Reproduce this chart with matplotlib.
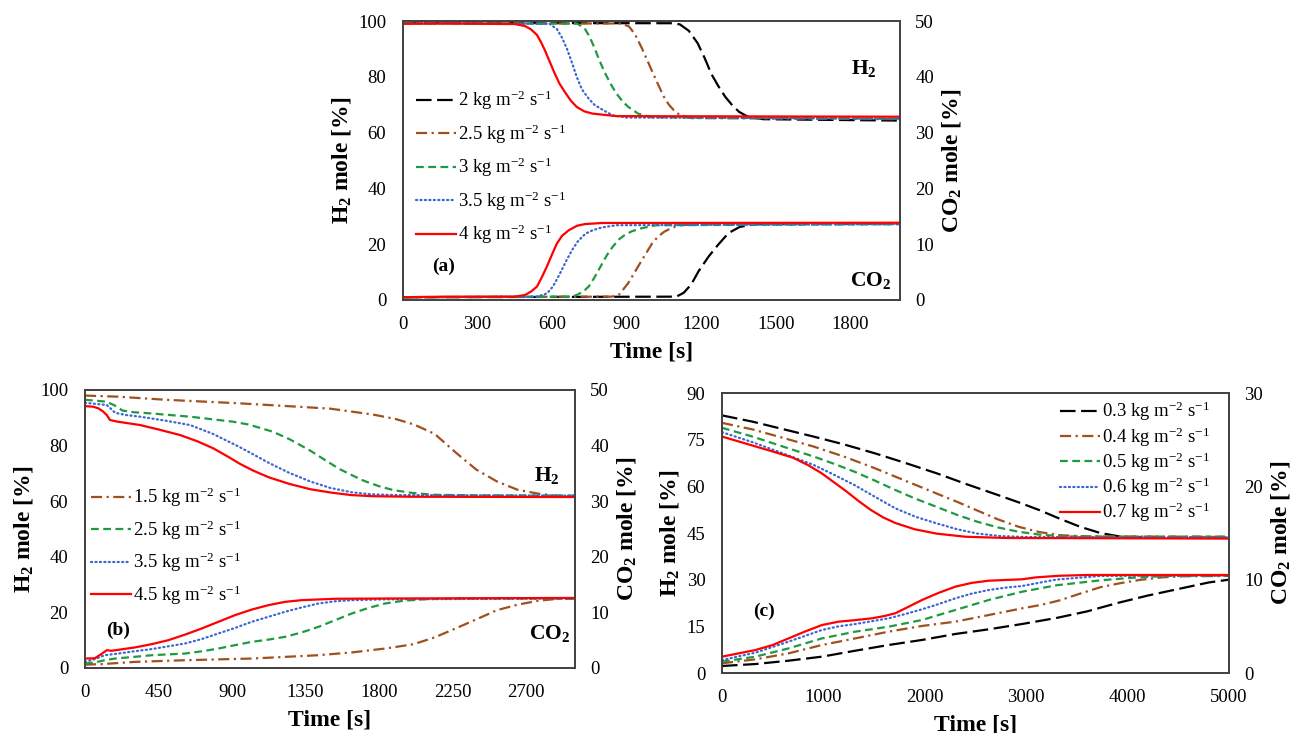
import matplotlib
matplotlib.use('Agg')
import matplotlib.pyplot as plt

plt.rcParams['font.family'] = ['Liberation Serif', 'DejaVu Serif']
plt.rcParams['mathtext.fontset'] = 'custom'
plt.rcParams['mathtext.rm'] = 'Liberation Serif'
plt.rcParams['mathtext.it'] = 'Liberation Serif:italic'
plt.rcParams['mathtext.bf'] = 'Liberation Serif:bold'

# ---------------- Panel (a) ----------------
a_labels = ['2 kg m$^{-2}$ s$^{-1}$', '2.5 kg m$^{-2}$ s$^{-1}$', '3 kg m$^{-2}$ s$^{-1}$',
            '3.5 kg m$^{-2}$ s$^{-1}$', '4 kg m$^{-2}$ s$^{-1}$']
a_xticks = [0, 300, 600, 900, 1200, 1500, 1800]

a_h2_t_2 = [0, 1080, 1114, 1150, 1186, 1215, 1241, 1270, 1297, 1325, 1353, 1390, 1450, 2000]
a_h2_2 = [99.3, 99.2, 98.8, 96.5, 92.0, 86.5, 81.0, 76.5, 72.8, 69.8, 67.4, 65.6, 64.8, 64.3]
a_h2_t_25 = [0, 880, 910, 935, 960, 980, 1000, 1020, 1050, 1070, 1090, 1115, 1160, 2000]
a_h2_25 = [99.2, 99.1, 98.0, 95.0, 90.5, 86.5, 82.5, 78.5, 72.8, 70.0, 68.0, 66.2, 65.2, 64.8]
a_h2_t_3 = [0, 700, 730, 750, 770, 790, 811, 835, 859, 885, 907, 946, 1000, 2000]
a_h2_3 = [99.2, 99.1, 97.5, 94.5, 90.5, 86.0, 81.7, 77.5, 74.0, 71.0, 69.2, 66.8, 65.5, 65.0]
a_h2_t_35 = [0, 590, 620, 640, 660, 680, 699, 720, 747, 770, 795, 843, 900, 2000]
a_h2_35 = [99.2, 99.0, 97.0, 94.0, 90.0, 85.0, 80.0, 75.5, 72.2, 70.0, 68.6, 66.2, 65.4, 65.0]
a_h2_t_4 = [0, 170, 450, 491, 515, 539, 555, 571, 590, 611, 630, 651, 675, 699, 730, 763, 860, 2000]
a_h2_4 = [99.0, 99.1, 98.9, 98.2, 97.0, 95.0, 92.5, 89.5, 85.5, 81.1, 77.5, 74.6, 71.5, 69.2, 67.6, 66.8, 65.9, 65.7]

a_co2_t_2 = [0, 1100, 1130, 1160, 1190, 1230, 1270, 1310, 1355, 1420, 2000]
a_co2_2 = [0.5, 0.6, 1.3, 2.8, 5.2, 7.8, 10.0, 12.0, 13.1, 13.6, 13.7]
a_co2_t_25 = [0, 840, 870, 906, 930, 954, 980, 1002, 1025, 1050, 1080, 1114, 1200, 2000]
a_co2_25 = [0.5, 0.6, 1.0, 3.0, 4.8, 6.6, 8.5, 10.1, 11.3, 12.2, 12.9, 13.4, 13.6, 13.6]
a_co2_t_3 = [0, 680, 699, 725, 747, 770, 795, 820, 843, 870, 891, 920, 954, 1018, 2000]
a_co2_3 = [0.5, 0.6, 0.9, 1.5, 2.4, 4.0, 6.0, 8.0, 9.5, 10.9, 11.6, 12.3, 12.8, 13.4, 13.6]
a_co2_t_35 = [0, 540, 580, 603, 630, 659, 685, 707, 735, 763, 800, 859, 2000]
a_co2_35 = [0.5, 0.6, 1.2, 2.4, 4.6, 7.2, 9.3, 10.7, 11.9, 12.5, 13.0, 13.4, 13.6]
a_co2_t_4 = [0, 170, 450, 491, 515, 539, 560, 579, 600, 619, 640, 667, 700, 731, 800, 2000]
a_co2_4 = [0.5, 0.6, 0.6, 0.9, 1.5, 2.4, 4.2, 6.0, 8.2, 10.1, 11.5, 12.5, 13.3, 13.6, 13.8, 13.85]

# ---------------- Panel (b) ----------------
b_labels = ['1.5 kg m$^{-2}$ s$^{-1}$', '2.5 kg m$^{-2}$ s$^{-1}$',
            '3.5 kg m$^{-2}$ s$^{-1}$', '4.5 kg m$^{-2}$ s$^{-1}$']
b_xticks = [0, 450, 900, 1350, 1800, 2250, 2700]

b_h2_t_15 = [0, 200, 490, 949, 1500, 1760, 1900, 2014, 2141, 2268, 2395, 2522, 2649, 2776, 2880, 3000]
b_h2_15 = [98.0, 97.6, 96.5, 95.2, 93.3, 91.2, 89.6, 87.6, 84.2, 77.6, 71.4, 67.1, 64.1, 62.7, 62.0, 61.7]
b_h2_t_25 = [0, 130, 180, 230, 300, 398, 643, 906, 1000, 1150, 1252, 1379, 1470, 1557, 1640, 1709,
             1800, 1887, 2000, 2141, 2400, 3000]
b_h2_25 = [96.5, 95.8, 94.5, 92.6, 92.0, 91.6, 90.4, 88.6, 87.6, 85.0, 82.3, 78.2, 74.8, 71.6, 69.2, 67.3,
           65.4, 64.0, 63.0, 62.3, 62.1, 62.0]
b_h2_t_35 = [0, 133, 160, 184, 250, 337, 490, 643, 780, 929, 1000, 1125, 1250, 1379, 1500, 1633, 1750, 1887, 3000]
b_h2_35 = [95.4, 94.6, 93.2, 91.8, 91.0, 90.4, 89.0, 87.4, 84.3, 80.0, 77.8, 73.8, 70.2, 67.1, 64.8, 63.2, 62.5, 62.2, 62.0]
b_h2_t_45 = [0, 50, 82, 110, 133, 153, 200, 337, 450, 582, 690, 786, 870, 950, 1030, 1125, 1252, 1380,
             1506, 1630, 1760, 2000, 3000]
b_h2_45 = [94.2, 94.0, 93.4, 92.3, 91.0, 89.2, 88.6, 87.4, 85.8, 83.8, 81.5, 79.0, 76.2, 73.4, 71.0, 68.6, 66.2, 64.3,
           63.1, 62.2, 61.8, 61.6, 61.5]

b_co2_t_15 = [0, 102, 306, 612, 1020, 1225, 1429, 1633, 1837, 1950, 2014, 2140, 2268, 2400, 2522, 2650, 2776, 2880, 3000]
b_co2_15 = [0.6, 0.7, 1.1, 1.4, 1.7, 2.0, 2.3, 2.8, 3.5, 4.0, 4.3, 5.5, 7.1, 8.8, 10.4, 11.4, 12.1, 12.4, 12.5]
b_co2_t_25 = [0, 60, 120, 184, 300, 408, 510, 612, 714, 816, 918, 1020, 1122, 1224, 1327, 1429, 1531, 1633,
              1735, 1837, 1950, 2100, 2300, 3000]
b_co2_25 = [0.8, 1.0, 1.4, 1.7, 2.0, 2.3, 2.45, 2.6, 3.0, 3.5, 4.1, 4.7, 5.1, 5.6, 6.4, 7.4, 8.6, 9.8,
            10.8, 11.6, 12.1, 12.4, 12.5, 12.5]
b_co2_t_35 = [0, 60, 122, 204, 300, 408, 510, 612, 714, 816, 918, 1020, 1122, 1224, 1327, 1429, 1531, 1633, 1837, 3000]
b_co2_35 = [1.1, 1.6, 2.3, 2.6, 3.0, 3.4, 3.9, 4.4, 5.2, 6.2, 7.2, 8.3, 9.2, 10.1, 10.9, 11.6, 12.0, 12.2, 12.35, 12.5]
b_co2_t_45 = [0, 60, 100, 133, 163, 306, 410, 510, 612, 714, 816, 918, 1020, 1122, 1225, 1327, 1531, 1837, 3000]
b_co2_45 = [1.7, 1.75, 2.5, 3.2, 3.1, 3.7, 4.3, 5.0, 6.0, 7.1, 8.3, 9.5, 10.5, 11.3, 11.9, 12.2, 12.45, 12.5, 12.6]

# ---------------- Panel (c) ----------------
c_labels = ['0.3 kg m$^{-2}$ s$^{-1}$', '0.4 kg m$^{-2}$ s$^{-1}$', '0.5 kg m$^{-2}$ s$^{-1}$',
            '0.6 kg m$^{-2}$ s$^{-1}$', '0.7 kg m$^{-2}$ s$^{-1}$']
c_xticks = [0, 1000, 2000, 3000, 4000, 5000]

c_h2_t_03 = [0, 300, 600, 902, 1200, 1509, 1800, 2116, 2420, 2722, 2930, 3127, 3330, 3532, 3730, 3936, 4200, 5000]
c_h2_03 = [82.8, 80.8, 78.4, 76.0, 73.5, 70.6, 67.6, 64.2, 60.6, 57.2, 54.8, 52.4, 49.6, 47.0, 45.0, 43.8, 43.5, 43.5]
c_h2_t_04 = [0, 300, 600, 902, 1200, 1509, 1800, 2116, 2320, 2520, 2720, 2925, 3130, 3329, 3600, 5000]
c_h2_04 = [80.4, 78.3, 75.6, 72.8, 69.6, 65.8, 61.9, 57.7, 55.0, 52.2, 49.4, 47.0, 45.3, 44.3, 43.9, 43.8]
c_h2_t_05 = [0, 300, 600, 902, 1100, 1307, 1510, 1711, 1910, 2116, 2320, 2520, 2720, 2925, 3150, 3400, 5000]
c_h2_05 = [78.8, 76.0, 72.8, 69.6, 67.3, 64.7, 61.8, 58.8, 56.0, 53.4, 50.8, 48.6, 46.8, 45.4, 44.4, 43.9, 43.8]
c_h2_t_06 = [0, 300, 600, 902, 1100, 1307, 1510, 1711, 1910, 2116, 2320, 2520, 2750, 3000, 5000]
c_h2_06 = [77.4, 74.2, 70.6, 66.9, 63.8, 60.4, 56.6, 52.9, 50.2, 48.1, 46.2, 44.8, 44.0, 43.7, 43.6]
c_h2_t_07 = [0, 250, 500, 700, 850, 983, 1100, 1226, 1350, 1468, 1590, 1711, 1900, 2116, 2400, 2800, 5000]
c_h2_07 = [76.0, 73.6, 71.2, 69.2, 66.8, 64.2, 61.4, 58.4, 55.2, 52.4, 50.0, 48.2, 46.2, 44.8, 43.8, 43.4, 43.2]

c_co2_t_03 = [0, 329, 657, 986, 1315, 1643, 1972, 2301, 2630, 2959, 3300, 3600, 3900, 4200, 4500, 4800, 5000]
c_co2_03 = [0.75, 0.96, 1.32, 1.75, 2.39, 3.0, 3.54, 4.18, 4.68, 5.25, 5.9, 6.6, 7.5, 8.3, 9.0, 9.7, 10.0]
c_co2_t_04 = [0, 329, 657, 986, 1315, 1643, 1972, 2301, 2630, 2959, 3150, 3329, 3530, 3734, 3940, 4138, 4343, 4543, 5000]
c_co2_04 = [1.04, 1.46, 2.11, 3.0, 3.71, 4.43, 5.04, 5.5, 6.21, 6.93, 7.3, 7.78, 8.5, 9.2, 9.65, 10.0, 10.25, 10.36, 10.4]
c_co2_t_05 = [0, 329, 657, 986, 1315, 1643, 1972, 2301, 2630, 2959, 3300, 3734, 4100, 4400, 5000]
c_co2_05 = [1.21, 1.75, 2.64, 3.71, 4.43, 4.96, 5.68, 6.75, 7.82, 8.71, 9.4, 9.93, 10.25, 10.4, 10.45]
c_co2_t_06 = [0, 329, 657, 986, 1150, 1315, 1479, 1643, 1800, 1972, 2140, 2301, 2460, 2630, 2800, 2959, 3289, 3734, 5000]
c_co2_06 = [1.39, 2.18, 3.36, 4.61, 5.0, 5.25, 5.55, 5.86, 6.3, 6.82, 7.4, 8.0, 8.5, 8.89, 9.15, 9.32, 10.0, 10.4, 10.45]
c_co2_t_07 = [0, 329, 500, 657, 820, 986, 1150, 1300, 1479, 1600, 1709, 1840, 1972, 2140, 2301, 2460, 2630,
              2959, 3100, 3329, 3600, 5000]
c_co2_07 = [1.75, 2.46, 3.0, 3.71, 4.45, 5.14, 5.5, 5.65, 5.86, 6.1, 6.4, 7.1, 7.82, 8.6, 9.25, 9.65, 9.89,
            10.04, 10.25, 10.42, 10.5, 10.5]

# ---------------- styles ----------------
BLACK = dict(color='#000000', dashes=(7, 2.5))
BROWN = dict(color='#A0501E', dashes=(5, 2, 1, 2))
GREEN = dict(color='#1F9A40', dashes=(3.5, 2))
BLUE = dict(color='#3A66D2', dashes=(0.5, 1.5), dash_capstyle='round')
RED = dict(color='#FF0000')
LW = 1.6
FRAME = '#404040'
TICK_FS = 13.5
LAB_FS = 17
LEG_FS = 13.5

W, H = 1292, 733
fig = plt.figure(figsize=(W / 100, H / 100), dpi=100)


def make_axes(l, t, r, b):
    return fig.add_axes([l / W, 1 - b / H, (r - l) / W, (b - t) / H])


def style(ax, ax2, xlim, xticks, ylim, yticks, y2lim, y2ticks):
    ax.set_xlim(*xlim)
    ax.set_xticks(xticks)
    ax.set_ylim(*ylim)
    ax.set_yticks(yticks)
    ax2.set_ylim(*y2lim)
    ax2.set_yticks(y2ticks)
    for a in (ax, ax2):
        for s in a.spines.values():
            s.set_color(FRAME)
            s.set_linewidth(1.2)
    ax.tick_params(axis='x', length=0, pad=11.5, labelsize=TICK_FS)
    ax.tick_params(axis='y', length=0, pad=12, labelsize=TICK_FS)
    ax2.tick_params(axis='y', length=0, pad=11, labelsize=TICK_FS)
    ax.set_xlabel('Time [s]', fontsize=LAB_FS, fontweight='bold', labelpad=6)
    ax.set_ylabel(r'$\mathbf{H_2}$ mole [%]', fontsize=LAB_FS, fontweight='bold', labelpad=4)
    ax2.set_ylabel(r'$\mathbf{CO_2}$ mole [%]', fontsize=LAB_FS, fontweight='bold', labelpad=4)


def legend(ax, anchor, spacing):
    ax.legend(loc='upper left', bbox_to_anchor=anchor, frameon=False, fontsize=LEG_FS,
              handlelength=2.15, handletextpad=0.1, labelspacing=spacing,
              borderpad=0, borderaxespad=0)


# ---- (a)
ax = make_axes(403, 21, 900, 300)
ax2 = ax.twinx()
a_styles = [BLACK, BROWN, GREEN, BLUE, RED]
a_h2 = [(a_h2_t_2, a_h2_2), (a_h2_t_25, a_h2_25), (a_h2_t_3, a_h2_3), (a_h2_t_35, a_h2_35), (a_h2_t_4, a_h2_4)]
a_co2 = [(a_co2_t_2, a_co2_2), (a_co2_t_25, a_co2_25), (a_co2_t_3, a_co2_3), (a_co2_t_35, a_co2_35),
         (a_co2_t_4, a_co2_4)]
for (t, v), (tc, vc), st, lab in zip(a_h2, a_co2, a_styles, a_labels):
    ax.plot(t, v, lw=LW, label=lab, **st)
    ax2.plot(tc, vc, lw=LW, **st)
style(ax, ax2, (0, 2000), a_xticks, (0, 100), range(0, 101, 20), (0, 50), range(0, 51, 10))
legend(ax, (0.026, 0.757), 0.54)
ax.text(1856, 82.9, r'$\mathbf{H_2}$', fontsize=15.5, ha='center', va='center')
ax.text(1880, 7.0, r'$\mathbf{CO_2}$', fontsize=15.5, ha='center', va='center')
ax.text(164, 11.9, '(a)', fontsize=14, fontweight='bold', ha='center', va='center')

# ---- (b)
ax = make_axes(85, 390, 575, 668)
ax2 = ax.twinx()
b_styles = [BROWN, GREEN, BLUE, RED]
b_h2 = [(b_h2_t_15, b_h2_15), (b_h2_t_25, b_h2_25), (b_h2_t_35, b_h2_35), (b_h2_t_45, b_h2_45)]
b_co2 = [(b_co2_t_15, b_co2_15), (b_co2_t_25, b_co2_25), (b_co2_t_35, b_co2_35), (b_co2_t_45, b_co2_45)]
for (t, v), (tc, vc), st, lab in zip(b_h2, b_co2, b_styles, b_labels):
    ax.plot(t, v, lw=LW, label=lab, **st)
    ax2.plot(tc, vc, lw=LW, **st)
style(ax, ax2, (0, 3000), b_xticks, (0, 100), range(0, 101, 20), (0, 50), range(0, 51, 10))
legend(ax, (0.012, 0.655), 0.48)
ax.text(2827, 69.2, r'$\mathbf{H_2}$', fontsize=15.5, ha='center', va='center')
ax.text(2847, 12.5, r'$\mathbf{CO_2}$', fontsize=15.5, ha='center', va='center')
ax.text(202, 13.7, '(b)', fontsize=14, fontweight='bold', ha='center', va='center')

# ---- (c)
ax = make_axes(722, 393, 1229, 673)
ax2 = ax.twinx()
c_styles = [BLACK, BROWN, GREEN, BLUE, RED]
c_h2 = [(c_h2_t_03, c_h2_03), (c_h2_t_04, c_h2_04), (c_h2_t_05, c_h2_05), (c_h2_t_06, c_h2_06), (c_h2_t_07, c_h2_07)]
c_co2 = [(c_co2_t_03, c_co2_03), (c_co2_t_04, c_co2_04), (c_co2_t_05, c_co2_05), (c_co2_t_06, c_co2_06),
         (c_co2_t_07, c_co2_07)]
for (t, v), (tc, vc), st, lab in zip(c_h2, c_co2, c_styles, c_labels):
    ax.plot(t, v, lw=LW, label=lab, **st)
    ax2.plot(tc, vc, lw=LW, **st)
style(ax, ax2, (0, 5000), c_xticks, (0, 90), range(0, 91, 15), (0, 30), range(0, 31, 10))
legend(ax, (0.666, 0.975), 0.1)
ax.text(411, 19.7, '(c)', fontsize=14, fontweight='bold', ha='center', va='center')

fig.savefig('out.png', dpi=100)
